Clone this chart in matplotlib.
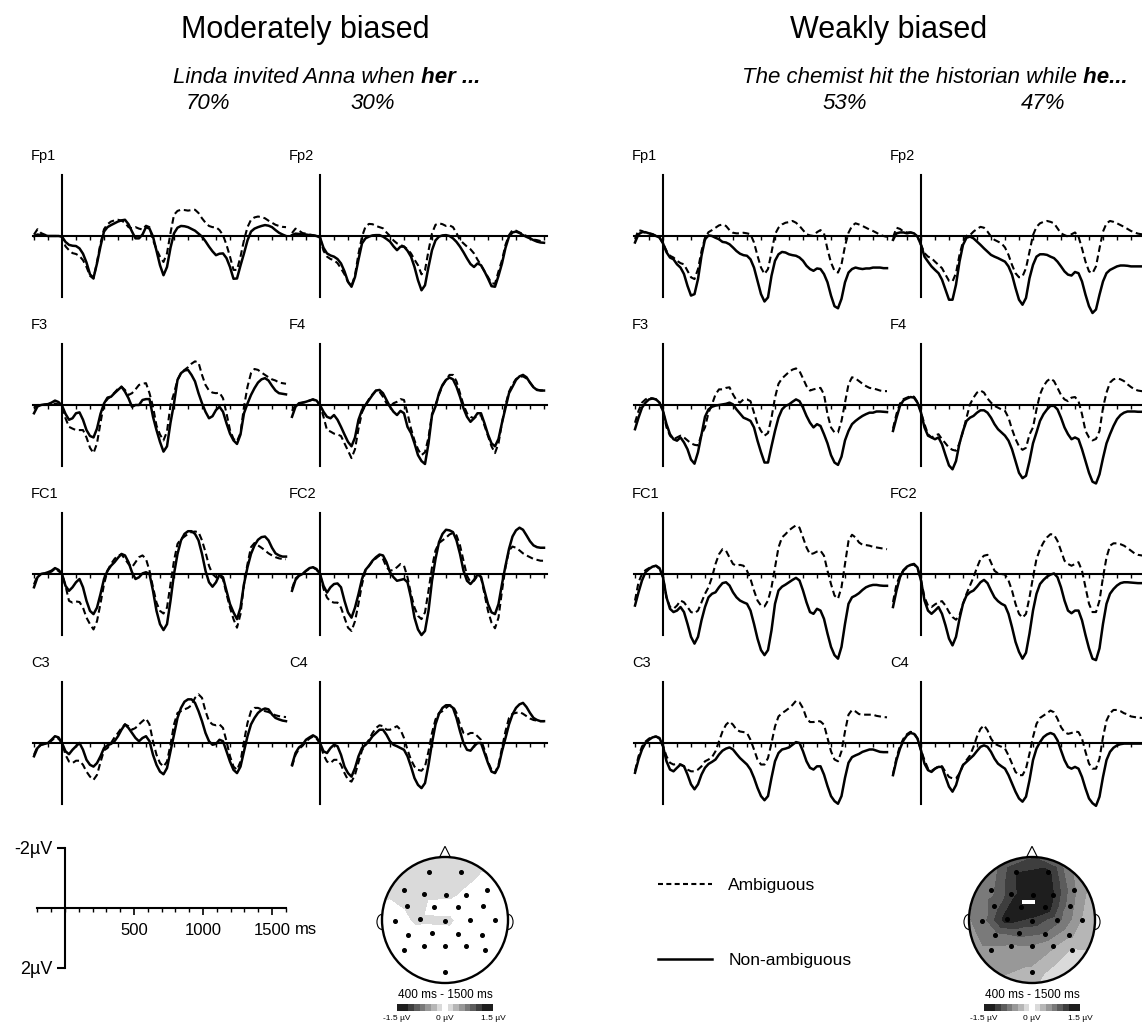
import numpy as np
import matplotlib
matplotlib.use("Agg")
import matplotlib.pyplot as plt
from matplotlib import font_manager
from matplotlib.colors import ListedColormap, BoundaryNorm
from matplotlib.lines import Line2D
from matplotlib.patches import Circle, Ellipse, Polygon, Rectangle

plt.rcParams['font.family'] = ['Liberation Sans', 'DejaVu Sans']

W, H = 1142, 1025

# one ERP sample every 25 ms, -200 .. 1600 ms
t_ms = np.arange(-200, 1601, 25)

# ---- Moderately biased (microvolt; negative is plotted upwards)
mod_fp1_non = [0.0, -0.05, -0.03, -0.02, 0.0, 0.0, 0.0, 0.0,
               0.02, 0.2, 0.3, 0.33, 0.34, 0.42, 0.6, 0.9,
               1.3, 1.42, 0.93, 0.35, -0.15, -0.3, -0.37, -0.43,
               -0.49, -0.53, -0.55, -0.4, -0.15, 0.08, 0.08, -0.05,
               -0.3, -0.25, 0.02, 0.5, 0.99, 1.33, 1.05, 0.4,
               -0.09, -0.28, -0.34, -0.33, -0.3, -0.24, -0.18, -0.08,
               0.02, 0.18, 0.36, 0.52, 0.65, 0.6, 0.59, 0.75,
               1.05, 1.45, 1.44, 1.0, 0.59, 0.15, -0.15, -0.25,
               -0.3, -0.34, -0.37, -0.35, -0.3, -0.2, -0.11, -0.05,
               0.0]
mod_fp1_amb = [-0.05, -0.23, -0.1, -0.05, 0.0, 0.0, 0.0, 0.0,
               0.02, 0.35, 0.48, 0.58, 0.61, 0.68, 0.82, 1.05,
               1.35, 1.45, 0.88, 0.25, -0.23, -0.4, -0.49, -0.53,
               -0.55, -0.52, -0.45, -0.3, -0.26, -0.3, -0.25, -0.22,
               -0.35, -0.3, 0.14, 0.45, 0.7, 0.88, 0.59, -0.1,
               -0.72, -0.85, -0.89, -0.88, -0.86, -0.88, -0.89, -0.78,
               -0.6, -0.45, -0.34, -0.3, -0.3, -0.2, -0.03, 0.3,
               0.7, 1.15, 1.15, 0.7, 0.14, -0.3, -0.55, -0.63,
               -0.66, -0.64, -0.6, -0.52, -0.45, -0.38, -0.34, -0.31,
               -0.3]
mod_fp2_non = [-0.03, -0.08, -0.07, -0.05, -0.05, -0.03, -0.02, 0.0,
               0.05, 0.4, 0.59, 0.66, 0.7, 0.78, 0.93, 1.2,
               1.55, 1.72, 1.39, 0.8, 0.25, 0.08, 0.02, -0.02,
               -0.03, -0.03, 0.02, 0.1, 0.19, 0.35, 0.48, 0.36,
               0.36, 0.5, 0.7, 1.05, 1.5, 1.84, 1.67, 1.05,
               0.48, 0.15, 0.02, -0.02, -0.03, 0.0, 0.08, 0.2,
               0.36, 0.55, 0.76, 0.95, 1.05, 0.93, 0.99, 1.2,
               1.44, 1.7, 1.72, 1.35, 0.93, 0.4, 0.02, -0.12,
               -0.15, -0.1, -0.03, 0.03, 0.08, 0.14, 0.19, 0.22,
               0.23]
mod_fp2_amb = [-0.1, -0.25, -0.18, -0.1, -0.08, -0.05, -0.03, 0.0,
               0.05, 0.5, 0.7, 0.78, 0.82, 0.92, 1.1, 1.3,
               1.56, 1.7, 1.33, 0.6, 0.02, -0.32, -0.41, -0.4,
               -0.34, -0.3, -0.26, -0.12, 0.0, 0.15, 0.25, 0.3,
               0.36, 0.45, 0.59, 0.8, 0.99, 1.3, 1.16, 0.5,
               -0.09, -0.38, -0.43, -0.4, -0.34, -0.36, -0.3, -0.1,
               0.14, 0.25, 0.36, 0.45, 0.59, 0.8, 0.99, 1.2,
               1.39, 1.6, 1.62, 1.2, 0.82, 0.3, -0.03, -0.2,
               -0.18, -0.12, -0.07, 0.0, 0.08, 0.12, 0.14, 0.17,
               0.19]
mod_f3_non = [0.28, 0.05, 0.0, -0.02, -0.03, -0.08, -0.15, -0.1,
              0.02, 0.3, 0.5, 0.45, 0.28, 0.25, 0.5, 0.85,
              1.05, 1.1, 0.8, 0.3, -0.05, -0.25, -0.28, -0.4,
              -0.51, -0.62, -0.45, -0.23, 0.06, 0.0, 0.0, -0.17,
              -0.2, -0.2, 0.4, 0.85, 1.25, 1.58, 1.4, 0.6,
              -0.05, -0.85, -1.08, -1.17, -1.19, -1.02, -0.8, -0.4,
              -0.06, 0.23, 0.45, 0.38, 0.17, 0.06, 0.23, 0.62,
              0.97, 1.2, 1.32, 1.0, 0.28, -0.05, -0.34, -0.57,
              -0.76, -0.87, -0.91, -0.83, -0.65, -0.49, -0.4, -0.38,
              -0.36]
mod_f3_amb = [0.1, 0.0, 0.0, 0.0, 0.0, -0.03, -0.05, -0.02,
              0.02, 0.45, 0.74, 0.8, 0.85, 0.85, 0.85, 1.1,
              1.45, 1.63, 1.3, 0.6, -0.05, -0.2, -0.3, -0.42,
              -0.55, -0.62, -0.51, -0.34, -0.4, -0.53, -0.68, -0.72,
              -0.74, -0.4, 0.06, 0.7, 1.0, 1.2, 0.9, 0.0,
              -0.4, -0.85, -1.08, -1.19, -1.28, -1.4, -1.48, -1.44,
              -1.02, -0.68, -0.49, -0.42, -0.4, -0.42, -0.23, 0.28,
              0.85, 1.15, 1.23, 0.95, 0.06, -0.62, -1.08, -1.22,
              -1.19, -1.1, -1.02, -0.94, -0.87, -0.83, -0.76, -0.74,
              -0.72]
mod_f4_non = [0.4, 0.06, -0.06, -0.08, -0.11, -0.15, -0.19, -0.15,
              0.0, 0.23, 0.4, 0.45, 0.34, 0.5, 0.74, 1.0,
              1.25, 1.4, 1.1, 0.5, 0.17, 0.0, -0.17, -0.34,
              -0.49, -0.51, -0.4, -0.17, 0.06, 0.23, 0.34, 0.2,
              0.28, 0.74, 0.95, 1.3, 1.7, 1.9, 2.0, 1.3,
              0.35, 0.05, -0.4, -0.68, -0.85, -0.93, -0.87, -0.62,
              -0.28, 0.11, 0.4, 0.57, 0.45, 0.28, 0.28, 0.62,
              1.0, 1.3, 1.4, 1.15, 0.6, 0.1, -0.4, -0.62,
              -0.85, -0.97, -1.02, -0.94, -0.76, -0.6, -0.51, -0.49,
              -0.49]
mod_f4_amb = [0.2, 0.0, -0.05, -0.08, -0.1, -0.15, -0.19, -0.1,
              0.0, 0.4, 0.85, 0.9, 0.97, 1.0, 1.05, 1.3,
              1.55, 1.8, 1.5, 0.8, 0.25, 0.0, -0.2, -0.36,
              -0.49, -0.45, -0.28, -0.06, 0.06, -0.06, -0.11, -0.2,
              -0.17, 0.28, 0.8, 1.2, 1.5, 1.7, 1.6, 1.1,
              0.3, 0.0, -0.35, -0.65, -0.85, -1.02, -1.02, -0.8,
              -0.4, 0.0, 0.28, 0.4, 0.45, 0.35, 0.35, 0.7,
              1.05, 1.4, 1.63, 1.3, 0.6, 0.0, -0.45, -0.7,
              -0.88, -0.95, -0.97, -0.9, -0.76, -0.6, -0.52, -0.5,
              -0.49]
mod_fc1_non = [0.45, 0.11, 0.0, -0.02, -0.06, -0.11, -0.2, -0.14,
               0.0, 0.4, 0.57, 0.45, 0.28, 0.17, 0.45, 0.91,
               1.25, 1.36, 1.14, 0.68, 0.17, -0.11, -0.28, -0.4,
               -0.55, -0.68, -0.63, -0.4, -0.06, 0.17, 0.11, -0.02,
               -0.06, 0.0, 0.57, 1.25, 1.7, 1.9, 1.7, 0.91,
               0.0, -0.68, -1.14, -1.36, -1.45, -1.45, -1.36, -1.14,
               -0.68, -0.11, 0.28, 0.43, 0.28, 0.02, 0.11, 0.57,
               1.02, 1.3, 1.53, 1.14, 0.34, -0.23, -0.68, -0.97,
               -1.16, -1.25, -1.27, -1.14, -0.89, -0.7, -0.63, -0.59,
               -0.59]
mod_fc1_amb = [0.35, 0.05, 0.0, -0.02, -0.05, -0.08, -0.18, -0.1,
               0.0, 0.4, 0.91, 0.97, 0.93, 0.95, 1.14, 1.48,
               1.7, 1.88, 1.6, 1.0, 0.35, -0.11, -0.34, -0.51,
               -0.63, -0.66, -0.51, -0.34, -0.23, -0.4, -0.57, -0.63,
               -0.51, -0.11, 0.45, 0.97, 1.25, 1.34, 1.14, 0.34,
               -0.45, -1.02, -1.19, -1.27, -1.36, -1.42, -1.44, -1.42,
               -1.14, -0.74, -0.28, 0.0, 0.11, 0.06, 0.17, 0.68,
               1.14, 1.53, 1.82, 1.36, 0.34, -0.34, -0.91, -1.05,
               -0.97, -0.89, -0.8, -0.7, -0.63, -0.57, -0.53, -0.51,
               -0.5]
mod_fc2_non = [0.57, 0.2, 0.06, 0.0, -0.11, -0.2, -0.23, -0.17,
               0.0, 0.4, 0.63, 0.45, 0.34, 0.32, 0.45, 0.91,
               1.3, 1.48, 1.14, 0.68, 0.17, -0.14, -0.28, -0.45,
               -0.57, -0.66, -0.63, -0.4, -0.06, 0.11, 0.23, 0.2,
               0.17, 0.28, 0.8, 1.48, 1.88, 2.07, 1.93, 1.25,
               0.23, -0.51, -1.08, -1.36, -1.5, -1.48, -1.42, -1.14,
               -0.68, -0.11, 0.23, 0.34, 0.2, 0.02, 0.09, 0.57,
               1.02, 1.3, 1.36, 1.02, 0.34, -0.28, -0.85, -1.27,
               -1.48, -1.57, -1.5, -1.31, -1.11, -0.97, -0.91, -0.89,
               -0.89]
mod_fc2_amb = [0.5, 0.15, 0.05, 0.0, -0.1, -0.18, -0.22, -0.15,
               0.0, 0.5, 0.8, 0.93, 0.97, 0.97, 1.14, 1.48,
               1.82, 1.93, 1.6, 1.0, 0.35, -0.11, -0.28, -0.43,
               -0.53, -0.63, -0.51, -0.23, -0.11, -0.14, -0.23, -0.34,
               -0.28, 0.11, 0.68, 1.14, 1.42, 1.53, 1.3, 0.57,
               -0.23, -0.8, -1.05, -1.14, -1.23, -1.34, -1.39, -1.31,
               -0.97, -0.45, 0.06, 0.28, 0.23, 0.06, 0.11, 0.68,
               1.25, 1.65, 1.84, 1.48, 0.57, -0.23, -0.8, -0.93,
               -0.89, -0.8, -0.7, -0.63, -0.57, -0.51, -0.48, -0.45,
               -0.45]
mod_c3_non = [0.45, 0.17, 0.06, 0.03, 0.0, -0.11, -0.23, -0.19,
              0.0, 0.28, 0.38, 0.23, 0.11, 0.0, 0.23, 0.57,
              0.74, 0.8, 0.68, 0.45, 0.17, 0.08, 0.03, -0.06,
              -0.23, -0.45, -0.63, -0.51, -0.34, -0.17, -0.06, -0.17,
              -0.23, -0.06, 0.4, 0.74, 0.97, 1.06, 0.85, 0.28,
              -0.28, -0.85, -1.19, -1.4, -1.48, -1.48, -1.36, -1.08,
              -0.74, -0.34, -0.06, 0.06, 0.03, -0.11, -0.06, 0.28,
              0.63, 0.91, 1.02, 0.8, 0.28, -0.23, -0.63, -0.85,
              -1.02, -1.12, -1.17, -1.14, -0.97, -0.85, -0.8, -0.76,
              -0.74]
mod_c3_amb = [0.4, 0.12, 0.06, 0.03, 0.0, -0.08, -0.18, -0.15,
              0.0, 0.4, 0.63, 0.68, 0.6, 0.6, 0.74, 0.97,
              1.14, 1.25, 1.08, 0.65, 0.25, 0.17, 0.0, -0.19,
              -0.34, -0.51, -0.63, -0.57, -0.45, -0.51, -0.63, -0.74,
              -0.83, -0.63, -0.06, 0.4, 0.68, 0.8, 0.63, 0.06,
              -0.63, -1.02, -1.08, -1.14, -1.19, -1.28, -1.53, -1.65,
              -1.53, -1.08, -0.74, -0.63, -0.6, -0.63, -0.51, -0.06,
              0.45, 0.8, 0.91, 0.63, -0.06, -0.68, -1.08, -1.19,
              -1.19, -1.14, -1.08, -1.05, -0.99, -0.94, -0.91, -0.89,
              -0.88]
mod_c4_non = [0.74, 0.34, 0.15, 0.06, -0.11, -0.19, -0.26, -0.19,
              0.0, 0.28, 0.34, 0.17, 0.06, 0.11, 0.4, 0.8,
              1.02, 1.14, 0.85, 0.45, 0.17, 0.06, -0.06, -0.23,
              -0.34, -0.45, -0.45, -0.28, -0.06, 0.06, 0.11, 0.17,
              0.23, 0.45, 0.8, 1.19, 1.42, 1.53, 1.36, 0.74,
              0.0, -0.63, -0.99, -1.19, -1.28, -1.28, -1.19, -0.85,
              -0.4, 0.0, 0.23, 0.26, 0.11, 0.0, 0.0, 0.34,
              0.68, 0.97, 1.02, 0.8, 0.28, -0.17, -0.63, -0.97,
              -1.19, -1.31, -1.36, -1.22, -1.02, -0.85, -0.78, -0.74,
              -0.74]
mod_c4_amb = [0.8, 0.4, 0.2, 0.1, -0.05, -0.15, -0.22, -0.15,
              0.0, 0.4, 0.63, 0.68, 0.57, 0.57, 0.74, 1.02,
              1.25, 1.31, 1.08, 0.65, 0.25, 0.06, -0.11, -0.34,
              -0.51, -0.6, -0.57, -0.45, -0.45, -0.51, -0.57, -0.45,
              -0.17, 0.23, 0.57, 0.8, 0.91, 0.94, 0.8, 0.28,
              -0.34, -0.8, -1.02, -1.08, -1.19, -1.28, -1.25, -1.02,
              -0.63, -0.34, -0.28, -0.34, -0.34, -0.23, -0.11, 0.23,
              0.63, 0.91, 1.02, 0.74, 0.17, -0.4, -0.85, -0.99,
              -1.02, -1.05, -0.99, -0.91, -0.83, -0.78, -0.76, -0.74,
              -0.74]

# ---- Weakly biased
weak_fp1_non = [0.22, -0.06, -0.13, -0.13, -0.09, -0.06, 0.0, 0.05,
                0.25, 0.55, 0.73, 0.79, 0.96, 1.07, 1.29, 1.69,
                2.02, 1.97, 1.46, 0.67, 0.11, -0.02, 0.0, 0.06,
                0.11, 0.2, 0.22, 0.28, 0.39, 0.51, 0.6, 0.65,
                0.67, 0.79, 1.07, 1.52, 1.97, 2.22, 2.08, 1.35,
                0.84, 0.62, 0.54, 0.56, 0.62, 0.65, 0.67, 0.73,
                0.84, 1.01, 1.12, 1.18, 1.1, 1.12, 1.29, 1.57,
                2.02, 2.38, 2.45, 2.13, 1.57, 1.24, 1.12, 1.07,
                1.1, 1.12, 1.1, 1.1, 1.07, 1.07, 1.07, 1.09,
                1.09]
weak_fp1_amb = [0.1, -0.2, -0.17, -0.11, -0.09, -0.06, 0.0, 0.05,
                0.25, 0.5, 0.67, 0.73, 0.84, 0.92, 0.96, 1.18,
                1.4, 1.46, 1.12, 0.51, 0.06, -0.13, -0.2, -0.28,
                -0.36, -0.39, -0.34, -0.2, -0.11, -0.09, -0.09, -0.11,
                -0.09, -0.06, 0.22, 0.67, 1.07, 1.29, 1.12, 0.56,
                -0.06, -0.28, -0.39, -0.45, -0.47, -0.51, -0.45, -0.34,
                -0.2, -0.06, -0.02, 0.0, -0.13, -0.2, -0.09, 0.45,
                0.9, 1.18, 1.24, 0.96, 0.34, -0.11, -0.34, -0.43,
                -0.39, -0.34, -0.28, -0.22, -0.17, -0.11, -0.04, 0.0,
                0.03]
weak_fp2_non = [0.13, -0.09, -0.12, -0.12, -0.09, -0.12, -0.09, 0.02,
                0.3, 0.7, 0.87, 1.03, 1.15, 1.26, 1.48, 1.82,
                2.16, 2.16, 1.65, 0.87, 0.3, 0.06, 0.02, 0.08,
                0.19, 0.3, 0.42, 0.53, 0.64, 0.7, 0.75, 0.81,
                0.87, 1.03, 1.31, 1.76, 2.16, 2.33, 2.1, 1.43,
                0.98, 0.7, 0.62, 0.62, 0.64, 0.7, 0.75, 0.87,
                1.03, 1.2, 1.31, 1.34, 1.22, 1.26, 1.54, 1.99,
                2.38, 2.61, 2.49, 1.99, 1.54, 1.26, 1.15, 1.09,
                1.03, 1.0, 1.0, 1.01, 1.03, 1.03, 1.03, 1.03,
                1.03]
weak_fp2_amb = [0.05, -0.28, -0.24, -0.15, -0.12, -0.12, -0.09, 0.02,
                0.3, 0.58, 0.7, 0.75, 0.87, 0.98, 1.09, 1.31,
                1.52, 1.54, 1.26, 0.64, 0.19, -0.01, -0.03, -0.15,
                -0.24, -0.31, -0.28, -0.15, 0.02, 0.13, 0.19, 0.25,
                0.39, 0.64, 0.98, 1.26, 1.4, 1.37, 1.09, 0.53,
                -0.03, -0.31, -0.43, -0.48, -0.51, -0.48, -0.43, -0.26,
                -0.09, -0.03, 0.02, -0.06, -0.12, 0.02, 0.42, 0.87,
                1.2, 1.26, 1.03, 0.42, -0.15, -0.43, -0.51, -0.48,
                -0.43, -0.37, -0.31, -0.24, -0.17, -0.12, -0.08, -0.06,
                -0.04]
weak_f3_non = [0.82, 0.43, 0.09, -0.08, -0.19, -0.22, -0.19, -0.08,
               0.2, 0.65, 0.99, 1.16, 1.21, 1.1, 1.27, 1.5,
               1.85, 1.99, 1.6, 1.0, 0.4, 0.15, 0.06, 0.02,
               0.0, -0.02, -0.04, -0.08, -0.02, 0.15, 0.29, 0.43,
               0.48, 0.54, 0.76, 1.21, 1.6, 1.95, 1.95, 1.4,
               0.88, 0.43, 0.15, 0.03, -0.02, -0.11, -0.19, -0.13,
               0.09, 0.37, 0.6, 0.76, 0.65, 0.71, 0.99, 1.3,
               1.7, 1.95, 2.03, 1.75, 1.2, 0.88, 0.65, 0.54,
               0.45, 0.37, 0.31, 0.26, 0.26, 0.22, 0.22, 0.23,
               0.24]
weak_f3_amb = [0.6, 0.2, -0.08, -0.19, -0.25, -0.22, -0.19, -0.08,
               0.2, 0.76, 1.04, 1.16, 1.1, 1.04, 1.1, 1.2,
               1.3, 1.35, 1.37, 1.0, 0.76, 0.26, -0.02, -0.36,
               -0.53, -0.53, -0.58, -0.6, -0.36, -0.16, -0.08, -0.19,
               -0.19, -0.13, 0.26, 0.65, 0.88, 1.04, 0.95, 0.43,
               -0.25, -0.72, -0.9, -1.01, -1.12, -1.2, -1.24, -1.15,
               -0.9, -0.64, -0.49, -0.53, -0.56, -0.58, -0.36, 0.31,
               0.76, 0.93, 0.93, 0.54, -0.08, -0.7, -0.94, -0.9,
               -0.81, -0.72, -0.64, -0.58, -0.56, -0.53, -0.49, -0.47,
               -0.47]
weak_f4_non = [0.88, 0.43, 0.03, -0.16, -0.22, -0.27, -0.25, -0.08,
               0.26, 0.76, 1.04, 1.1, 1.16, 1.1, 1.33, 1.7,
               2.05, 2.18, 1.9, 1.3, 0.88, 0.54, 0.43, 0.37,
               0.26, 0.18, 0.18, 0.26, 0.43, 0.65, 0.82, 0.93,
               1.04, 1.21, 1.5, 1.9, 2.3, 2.48, 2.4, 1.9,
               1.3, 0.93, 0.54, 0.31, 0.15, 0.03, 0.03, 0.15,
               0.43, 0.76, 0.99, 1.16, 1.1, 1.16, 1.5, 1.9,
               2.3, 2.6, 2.66, 2.35, 1.8, 1.3, 0.99, 0.71,
               0.48, 0.34, 0.26, 0.22, 0.22, 0.22, 0.23, 0.23,
               0.23]
weak_f4_amb = [0.8, 0.3, -0.05, -0.2, -0.25, -0.3, -0.28, -0.1,
               0.25, 0.65, 0.99, 1.1, 1.04, 0.99, 1.16, 1.3,
               1.45, 1.52, 1.55, 1.3, 0.9, 0.43, -0.02, -0.25,
               -0.42, -0.49, -0.42, -0.22, -0.08, 0.03, 0.09, 0.15,
               0.2, 0.43, 0.82, 1.15, 1.4, 1.52, 1.45, 1.0,
               0.76, 0.15, -0.36, -0.64, -0.81, -0.9, -0.81, -0.58,
               -0.34, -0.19, -0.13, -0.25, -0.27, -0.13, 0.31, 0.88,
               1.1, 1.2, 1.15, 0.88, 0.09, -0.42, -0.76, -0.87,
               -0.9, -0.87, -0.81, -0.7, -0.61, -0.53, -0.49, -0.47,
               -0.46]
weak_fc1_non = [1.07, 0.62, 0.22, -0.06, -0.17, -0.25, -0.28, -0.2,
                0.11, 0.79, 1.18, 1.29, 1.24, 1.12, 1.29, 1.69,
                2.13, 2.36, 2.13, 1.57, 1.12, 0.79, 0.67, 0.62,
                0.45, 0.31, 0.28, 0.39, 0.62, 0.79, 0.9, 0.96,
                1.01, 1.24, 1.69, 2.19, 2.58, 2.75, 2.58, 1.91,
                1.01, 0.56, 0.43, 0.36, 0.28, 0.2, 0.13, 0.22,
                0.56, 0.96, 1.29, 1.35, 1.18, 1.24, 1.52, 2.02,
                2.47, 2.75, 2.87, 2.47, 1.69, 1.01, 0.79, 0.73,
                0.65, 0.54, 0.45, 0.4, 0.37, 0.37, 0.39, 0.4,
                0.4]
weak_fc1_amb = [0.9, 0.28, 0.0, -0.13, -0.2, -0.25, -0.28, -0.17,
                0.11, 0.79, 1.12, 1.18, 1.07, 0.9, 0.96, 1.12,
                1.29, 1.33, 1.24, 0.96, 0.67, 0.45, 0.11, -0.34,
                -0.67, -0.84, -0.79, -0.56, -0.34, -0.28, -0.31, -0.28,
                -0.11, 0.17, 0.56, 0.9, 1.07, 1.1, 0.9, 0.45,
                -0.22, -0.9, -1.24, -1.35, -1.48, -1.57, -1.65, -1.57,
                -1.24, -0.9, -0.67, -0.7, -0.76, -0.79, -0.62, -0.11,
                0.34, 0.73, 0.84, 0.45, -0.34, -1.12, -1.33, -1.24,
                -1.07, -0.99, -0.98, -0.96, -0.92, -0.9, -0.88, -0.86,
                -0.84]
weak_fc2_non = [1.12, 0.56, 0.11, -0.13, -0.25, -0.31, -0.34, -0.22,
                0.22, 0.9, 1.24, 1.35, 1.24, 1.12, 1.35, 1.74,
                2.19, 2.42, 2.13, 1.52, 1.01, 0.73, 0.62, 0.56,
                0.43, 0.28, 0.2, 0.31, 0.56, 0.79, 0.92, 1.01,
                1.07, 1.35, 1.8, 2.3, 2.64, 2.87, 2.67, 2.02,
                1.24, 0.67, 0.34, 0.2, 0.09, 0.02, -0.02, 0.11,
                0.45, 0.9, 1.24, 1.33, 1.24, 1.24, 1.57, 2.07,
                2.52, 2.87, 2.92, 2.52, 1.69, 1.01, 0.67, 0.51,
                0.39, 0.31, 0.28, 0.28, 0.29, 0.3, 0.31, 0.31,
                0.31]
weak_fc2_amb = [0.95, 0.35, 0.05, -0.12, -0.22, -0.3, -0.32, -0.2,
                0.2, 0.79, 1.07, 1.12, 1.03, 0.96, 0.92, 1.07,
                1.29, 1.46, 1.55, 1.4, 1.01, 0.67, 0.39, 0.11,
                -0.22, -0.51, -0.62, -0.65, -0.39, -0.11, -0.02, 0.0,
                0.02, 0.22, 0.56, 1.01, 1.35, 1.48, 1.35, 0.79,
                0.11, -0.51, -0.84, -1.07, -1.24, -1.35, -1.33, -1.12,
                -0.79, -0.45, -0.34, -0.28, -0.34, -0.4, -0.11, 0.45,
                1.01, 1.29, 1.29, 0.9, 0.11, -0.56, -0.96, -1.04,
                -1.04, -1.01, -0.96, -0.88, -0.79, -0.7, -0.65, -0.63,
                -0.62]
weak_c3_non = [1.01, 0.56, 0.22, 0.0, -0.11, -0.19, -0.22, -0.17,
               0.11, 0.62, 0.9, 0.96, 0.84, 0.73, 0.79, 1.07,
               1.4, 1.57, 1.4, 1.07, 0.84, 0.71, 0.64, 0.56,
               0.39, 0.26, 0.19, 0.15, 0.22, 0.37, 0.51, 0.62,
               0.73, 0.9, 1.18, 1.52, 1.8, 1.94, 1.8, 1.18,
               0.62, 0.34, 0.22, 0.19, 0.15, 0.06, -0.03, 0.0,
               0.28, 0.62, 0.84, 0.9, 0.79, 0.79, 1.07, 1.46,
               1.8, 1.97, 2.06, 1.8, 1.18, 0.67, 0.48, 0.42,
               0.37, 0.3, 0.26, 0.22, 0.22, 0.26, 0.3, 0.31,
               0.31]
weak_c3_amb = [0.95, 0.45, 0.12, -0.05, -0.15, -0.2, -0.22, -0.15,
               0.1, 0.45, 0.67, 0.73, 0.71, 0.73, 0.79, 0.9,
               0.96, 0.96, 0.9, 0.79, 0.62, 0.56, 0.48, 0.28,
               -0.06, -0.39, -0.62, -0.73, -0.62, -0.45, -0.39, -0.37,
               -0.34, -0.11, 0.22, 0.56, 0.73, 0.73, 0.51, 0.0,
               -0.56, -0.9, -1.01, -1.09, -1.18, -1.29, -1.43, -1.38,
               -1.18, -0.84, -0.71, -0.71, -0.75, -0.73, -0.62, -0.17,
               0.28, 0.56, 0.62, 0.28, -0.39, -0.96, -1.12, -1.07,
               -0.98, -0.96, -0.96, -0.96, -0.96, -0.92, -0.9, -0.88,
               -0.87]
weak_c4_non = [1.09, 0.58, 0.19, -0.09, -0.26, -0.34, -0.31, -0.15,
               0.25, 0.7, 0.92, 0.98, 0.87, 0.81, 0.81, 1.15,
               1.48, 1.65, 1.43, 1.03, 0.75, 0.64, 0.53, 0.42,
               0.27, 0.13, 0.08, 0.13, 0.3, 0.53, 0.7, 0.79,
               0.87, 1.09, 1.37, 1.65, 1.88, 1.99, 1.82, 1.26,
               0.58, 0.19, -0.03, -0.2, -0.29, -0.34, -0.29, -0.09,
               0.25, 0.58, 0.81, 0.87, 0.81, 0.87, 1.15, 1.54,
               1.88, 2.04, 2.13, 1.82, 1.15, 0.58, 0.3, 0.16,
               0.08, 0.04, 0.02, 0.02, 0.02, 0.02, 0.02, 0.02,
               0.02]
weak_c4_amb = [1.05, 0.5, 0.1, -0.15, -0.3, -0.38, -0.35, -0.15,
               0.25, 0.58, 0.87, 0.94, 0.87, 0.79, 0.79, 0.98,
               1.15, 1.2, 1.2, 1.03, 0.75, 0.58, 0.42, 0.13,
               -0.22, -0.48, -0.6, -0.43, -0.15, 0.02, 0.08, 0.13,
               0.19, 0.42, 0.7, 0.98, 1.09, 1.09, 0.87, 0.36,
               -0.2, -0.65, -0.85, -0.93, -1.01, -1.1, -1.04, -0.82,
               -0.54, -0.37, -0.31, -0.34, -0.39, -0.37, -0.15, 0.3,
               0.7, 0.87, 0.87, 0.53, -0.2, -0.76, -1.01, -1.12,
               -1.12, -1.08, -1.01, -0.97, -0.9, -0.88, -0.86, -0.85,
               -0.85]

channels = [['Fp1', 'Fp2'], ['F3', 'F4'], ['FC1', 'FC2'], ['C3', 'C4']]
mod_traces = {
    'Fp1': (mod_fp1_amb, mod_fp1_non), 'Fp2': (mod_fp2_amb, mod_fp2_non),
    'F3': (mod_f3_amb, mod_f3_non), 'F4': (mod_f4_amb, mod_f4_non),
    'FC1': (mod_fc1_amb, mod_fc1_non), 'FC2': (mod_fc2_amb, mod_fc2_non),
    'C3': (mod_c3_amb, mod_c3_non), 'C4': (mod_c4_amb, mod_c4_non),
}
weak_traces = {
    'Fp1': (weak_fp1_amb, weak_fp1_non), 'Fp2': (weak_fp2_amb, weak_fp2_non),
    'F3': (weak_f3_amb, weak_f3_non), 'F4': (weak_f4_amb, weak_f4_non),
    'FC1': (weak_fc1_amb, weak_fc1_non), 'FC2': (weak_fc2_amb, weak_fc2_non),
    'C3': (weak_c3_amb, weak_c3_non), 'C4': (weak_c4_amb, weak_c4_non),
}
for cond in (mod_traces, weak_traces):
    for k, (a, b) in cond.items():
        assert len(a) == len(t_ms) and len(b) == len(t_ms), (k, len(a), len(b))

# ---- scalp maps, 400-1500 ms (difference in microvolt)
elec_x = [-0.26, 0.26, -0.65, -0.34, 0.01, 0.33, 0.66, -0.6, -0.18, 0.21, 0.6,
          -0.8, -0.4, 0.0, 0.4, 0.8, -0.58, -0.2, 0.2, 0.59, -0.65, -0.33, 0.0,
          0.33, 0.64, 0.0]
elec_y = [0.76, 0.76, 0.47, 0.42, 0.4, 0.4, 0.47, 0.22, 0.2, 0.2, 0.22,
          -0.01, 0.01, -0.01, 0.0, 0.0, -0.24, -0.2, -0.23, -0.24, -0.48, -0.41,
          -0.42, -0.41, -0.47, -0.83]
rim_angle = [90, 60, 30, 0, -30, -60, -90, -120, -150, 180, 150, 120]
mod_map = [-0.25, -0.25, -0.25, -0.25, -0.2, -0.05, 0.05, -0.15, 0.05, 0.05, 0.05,
           0.05, -0.2, -0.2, 0.05, 0.05, 0.05, 0.05, 0.05, 0.05, 0.05, 0.05,
           0.05, 0.05, 0.05, 0.05]
mod_rim = [-0.25, -0.2, 0.05, 0.05, 0.05, 0.05, 0.05, 0.05, 0.05, 0.0, -0.2, -0.25]
weak_map = [-1.3, -1.4, -0.85, -1.2, -1.6, -1.35, -0.75, -1.0, -1.6, -1.5, -0.8,
            -0.8, -1.45, -1.25, -1.0, -0.5, -0.85, -1.0, -0.9, -0.55, -0.65, -0.7,
            -0.7, -0.55, -0.3, -0.45]
weak_rim = [-1.0, -0.8, -0.45, -0.4, -0.25, -0.05, -0.35, -0.5, -0.6, -0.65, -0.7, -0.9]

map_levels = [-3, -1.3, -1.1, -0.9, -0.7, -0.5, -0.3, -0.1, 0.1, 0.3, 0.5, 0.7,
              0.9, 1.1, 1.3, 3]
map_grays = ['#1e1e1e', '#3e3e3e', '#5c5c5c', '#7a7a7a', '#989898', '#b6b6b6',
             '#dadada', '#ffffff', '#dadada', '#b6b6b6', '#989898', '#7a7a7a',
             '#5c5c5c', '#3e3e3e', '#1e1e1e']
gray_cmap = ListedColormap(map_grays)
gray_norm = BoundaryNorm(map_levels, gray_cmap.N)

installed = {f.name for f in font_manager.fontManager.ttflist}
narrow = 'Liberation Sans Narrow' if 'Liberation Sans Narrow' in installed else 'Liberation Sans'

fig = plt.figure(figsize=(W / 100, H / 100), dpi=100)


def px_axes(left, top, width, height):
    return fig.add_axes([left / W, 1 - (top + height) / H, width / W, height / H])


over = px_axes(0, 0, W, H)
over.set_xlim(0, W)
over.set_ylim(H, 0)
over.axis('off')

# titles and example sentences
over.text(305, 38, 'Moderately biased', fontsize=22, ha='center', va='baseline')
over.text(790, 38, 'Weakly biased', fontsize=22, ha='left', va='baseline')
s1 = over.text(173, 83, 'Linda invited Anna when', fontsize=16, style='italic', va='baseline')
over.annotate(' her ...', xy=(1, 0), xycoords=s1, fontsize=16, style='italic',
              weight='bold', va='bottom', ha='left')
s2 = over.text(742, 83, 'The chemist hit the historian while', fontsize=16,
               style='italic', va='baseline')
over.annotate(' he...', xy=(1, 0), xycoords=s2, fontsize=16, style='italic',
              weight='bold', va='bottom', ha='left')
for x, s in [(208, '70%'), (373, '30%'), (845, '53%'), (1043, '47%')]:
    over.text(x, 109, s, fontsize=16, style='italic', ha='center', va='baseline')

SX, SY = 0.14, 29.5
col_x0 = [62, 320, 663, 921]
row_y0 = [236, 405, 574, 743]


def erp_panel(x0, y0, name, amb, non):
    ax = px_axes(x0 - 215 * SX, y0 - 2.6 * SY, 1840 * SX, 6.0 * SY)
    ax.set_xlim(-215, 1625)
    ax.set_ylim(3.4, -2.6)
    ax.patch.set_visible(False)
    ax.spines['top'].set_visible(False)
    ax.spines['right'].set_visible(False)
    ax.spines['bottom'].set_position(('data', 0))
    ax.spines['bottom'].set_bounds(-210, 1620)
    ax.spines['left'].set_position(('data', 0))
    ax.spines['left'].set_bounds(-2.07, 2.07)
    ax.spines['bottom'].set_linewidth(1.5)
    ax.spines['left'].set_linewidth(1.5)
    ax.set_xticks(np.arange(-200, 1601, 100))
    ax.tick_params(axis='x', direction='out', length=3, width=1, labelbottom=False)
    ax.set_yticks([])
    ax.plot(t_ms, amb, color='k', lw=1.5, dashes=(3.2, 1.8))
    ax.plot(t_ms, non, color='k', lw=1.8)
    over.text(x0 - 31, y0 - 80, name, fontsize=10.5, family=narrow,
              ha='left', va='center')


for c, traces in enumerate([mod_traces, weak_traces]):
    for r, pair in enumerate(channels):
        for k, name in enumerate(pair):
            amb, non = traces[name]
            erp_panel(col_x0[2 * c + k], row_y0[r], name, amb, non)

# scale bar
SXB, SYB = 0.138, 30
sb = px_axes(65 - 215 * SXB, 908 - 2.6 * SYB, 1840 * SXB, 5.2 * SYB)
sb.set_xlim(-215, 1625)
sb.set_ylim(2.6, -2.6)
sb.patch.set_visible(False)
sb.spines['top'].set_visible(False)
sb.spines['right'].set_visible(False)
sb.spines['bottom'].set_position(('data', 0))
sb.spines['bottom'].set_bounds(-200, 1600)
sb.spines['left'].set_position(('data', 0))
sb.spines['left'].set_bounds(-2, 2)
sb.spines['bottom'].set_linewidth(1.5)
sb.spines['left'].set_linewidth(1.5)
sb.set_xticks([500, 1000, 1500])
sb.set_xticks(np.arange(-200, 1601, 100), minor=True)
sb.tick_params(axis='x', which='major', direction='out', length=5, width=1.2,
               labelsize=12, pad=6)
sb.tick_params(axis='x', which='minor', direction='out', length=3, width=1)
sb.set_yticks([-2, 2])
sb.set_yticklabels(['-2µV', '2µV'])
sb.tick_params(axis='y', direction='out', length=6, width=1.5, labelsize=13, pad=3)
sb.annotate('ms', xy=(1600, 0), xytext=(9, -22), textcoords='offset pixels',
            fontsize=12, ha='left', va='center')

# legend
leg_handles = [Line2D([], [], color='k', lw=1.5, dashes=(2.4, 1.6)),
               Line2D([], [], color='k', lw=1.8)]
fig.legend(leg_handles, ['Ambiguous', 'Non-ambiguous'], loc='upper left',
           bbox_to_anchor=(658 / W, 1 - 878 / H), frameon=False, fontsize=12.5,
           handlelength=3.1, handletextpad=0.95, labelspacing=3.45,
           borderaxespad=0, borderpad=0)


def scalp_map(cx, cy, vals, rim, mark=False):
    R, ext = 63, 1.25
    ax = px_axes(cx - ext * R, cy - ext * R, 2 * ext * R, 2 * ext * R)
    ax.set_xlim(-ext, ext)
    ax.set_ylim(-ext, ext)
    ax.axis('off')
    ang = np.deg2rad(rim_angle)
    x = np.concatenate([elec_x, 1.08 * np.cos(ang)])
    y = np.concatenate([elec_y, 1.08 * np.sin(ang)])
    z = np.concatenate([vals, rim])
    head = Circle((0, 0), 1, transform=ax.transData)
    cs = ax.tricontourf(x, y, z, levels=map_levels, colors=map_grays, zorder=1)
    cs.set_clip_path(head)
    for side in (-1, 1):
        ax.add_patch(Ellipse((side * 1.0, -0.03), 0.16, 0.24, fc='white',
                             ec='k', lw=0.8, zorder=0.5))
    ax.add_patch(Polygon([(-0.09, 0.99), (0, 1.17), (0.09, 0.99)], closed=True,
                         fc='white', ec='k', lw=0.8, zorder=0.5))
    ax.add_patch(Circle((0, 0), 1, fill=False, ec='k', lw=1.7, zorder=3))
    ax.plot(elec_x, elec_y, 'o', color='k', ms=2.6, zorder=4)
    if mark:
        ax.add_patch(Rectangle((-0.16, 0.26), 0.21, 0.065, fc='white', ec='none',
                               zorder=5))
    over.text(cx, 995, '400 ms - 1500 ms', fontsize=8.5, ha='center', va='center')
    cb = px_axes(cx - 48, 1004, 96, 7)
    cb.imshow(np.linspace(-1.5, 1.5, 17)[None, :], cmap=gray_cmap, norm=gray_norm,
              aspect='auto', extent=(-1.5, 1.5, 0, 1))
    cb.axis('off')
    for dx, s in [(-48, '-1.5 µV'), (0, '0 µV'), (48, '1.5 µV')]:
        over.text(cx + dx, 1019, s, fontsize=6, family=narrow, ha='center', va='center')


scalp_map(445, 920, mod_map, mod_rim)
scalp_map(1032, 920, weak_map, weak_rim, mark=True)

fig.savefig('out.png', dpi=100)
